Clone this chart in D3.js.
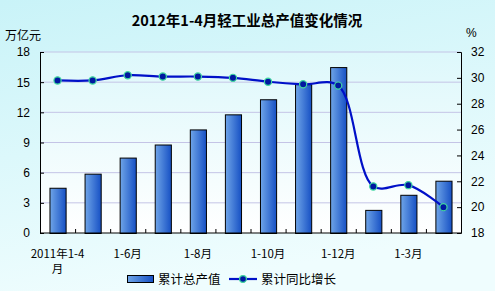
<!DOCTYPE html>
<html>
<head>
<meta charset="utf-8">
<script src="https://cdn.jsdelivr.net/npm/d3@7"></script>
<style>
  body { margin: 0; }
  svg { display: block; }
</style>
</head>
<body>
<div id="chart"></div>
<script>
// data
const categories = ["2011年1-4月", "1-5月", "1-6月", "1-7月", "1-8月", "1-9月",
                    "1-10月", "1-11月", "1-12月", "1-2月", "1-3月", "1-4月"];
const outputValues = [4.5, 5.9, 7.5, 8.8, 10.3, 11.8, 13.3, 14.8, 16.5, 2.3, 3.8, 5.2];
const growthValues = [29.8, 29.8, 30.2, 30.1, 30.1, 30.0, 29.7, 29.5, 29.4, 21.6, 21.7, 20.0];
const leftTicks = [0, 3, 6, 9, 12, 15, 18];
const rightTicks = [18, 20, 22, 24, 26, 28, 30, 32];
const shownLabels = ["2011年1-4月", "1-6月", "1-8月", "1-10月", "1-12月", "1-3月"];

const W = 495, H = 291;
let margin = { top: 52, bottom: 58, left: 40, right: 34 };
let width = W - margin.left - margin.right,
    height = H - margin.top - margin.bottom;

let svg = d3.select('#chart').append('svg')
    .attr('width', W).attr('height', H);

let defs = svg.append('defs');
let bg = defs.append('linearGradient').attr('id', 'bg')
    .attr('x1', 0).attr('y1', 0).attr('x2', 0.3).attr('y2', 1);
bg.append('stop').attr('offset', '0%').attr('stop-color', '#c9f3f8');
bg.append('stop').attr('offset', '100%').attr('stop-color', '#effdfe');

let pbg = defs.append('linearGradient').attr('id', 'pbg')
    .attr('x1', 0).attr('y1', 0).attr('x2', 0).attr('y2', 1);
pbg.append('stop').attr('offset', '0%').attr('stop-color', '#ddf8fb');
pbg.append('stop').attr('offset', '100%').attr('stop-color', '#ffffff');

let barGrad = defs.append('linearGradient').attr('id', 'bar')
    .attr('x1', 0).attr('y1', 0).attr('x2', 1).attr('y2', 0);
barGrad.append('stop').attr('offset', '0%').attr('stop-color', '#6fa5e8');
barGrad.append('stop').attr('offset', '100%').attr('stop-color', '#1650c4');

svg.append('rect').attr('width', W).attr('height', H).attr('fill', 'url(#bg)');

// title + units
svg.append('text')
    .attr('x', 247).attr('y', 26)
    .attr('text-anchor', 'middle')
    .style('font-family', '"Noto Sans CJK SC", sans-serif')
    .style('font-size', '14.5px').style('font-weight', 'bold')
    .text('2012年1-4月轻工业总产值变化情况');
svg.append('text')
    .attr('x', 5).attr('y', 40)
    .style('font-family', '"Noto Sans CJK SC", sans-serif')
    .style('font-size', '12px')
    .text('万亿元');
svg.append('text')
    .attr('x', 466).attr('y', 37)
    .style('font-family', '"Liberation Sans", Arial, sans-serif')
    .style('font-size', '12px')
    .text('%');

let g = svg.append('g').attr('transform', `translate(${margin.left},${margin.top})`);

// Scales
let xscale = d3.scaleBand().domain(categories).range([0, width]).paddingInner(0.54).paddingOuter(0.27);
let xpos = d3.scalePoint().domain(categories).range([0, width]).padding(0.5);
let yleft = d3.scaleLinear().domain([0, 18]).range([height, 0]);
let yright = d3.scaleLinear().domain([18, 32]).range([height, 0]);

g.append('rect').attr('width', width).attr('height', height).attr('fill', 'url(#pbg)');

// gridlines
g.selectAll('.grid').data(leftTicks.slice(1)).join('line')
    .attr('class', 'grid')
    .attr('x1', 0).attr('x2', width)
    .attr('y1', d => yleft(d)).attr('y2', d => yleft(d))
    .attr('stroke', '#c4c4e6').attr('stroke-width', 1);

// bars
g.selectAll('.bar').data(outputValues).join('rect')
    .attr('class', 'bar')
    .attr('x', (d, i) => xscale(categories[i]) + 0.5)
    .attr('width', xscale.bandwidth())
    .attr('y', d => yleft(d) + 0.5)
    .attr('height', d => height - yleft(d))
    .attr('fill', 'url(#bar)')
    .attr('stroke', '#000').attr('stroke-width', 1);

// axes
let tickFont = g => g.selectAll('text')
    .style('font-family', '"Liberation Sans", Arial, sans-serif')
    .style('font-size', '12px').attr('fill', '#000');

let gl = g.append('g').call(d3.axisLeft(yleft).tickValues(leftTicks).tickSize(-4).tickPadding(10));
gl.call(tickFont);
let gr = g.append('g').attr('transform', `translate(${width},0)`)
    .call(d3.axisRight(yright).tickValues(rightTicks).tickSize(-4).tickPadding(10));
gr.call(tickFont);

let step = width / categories.length;
let gx = g.append('g').attr('transform', `translate(0,${height})`);
gx.append('line').attr('x1', 0).attr('x2', width).attr('stroke', '#000');
gx.selectAll('.xt').data(d3.range(1, categories.length)).join('line')
    .attr('class', 'xt')
    .attr('x1', d => d * step + 0.5).attr('x2', d => d * step + 0.5)
    .attr('y1', 0).attr('y2', -4).attr('stroke', '#000');

let xl = gx.selectAll('.xl').data(shownLabels).join('text')
    .attr('class', 'xl')
    .attr('text-anchor', 'middle')
    .attr('transform', d => `translate(${xpos(d)},25)`)
    .style('font-family', '"Noto Sans CJK SC", sans-serif')
    .style('font-size', '11.5px');
xl.each(function(d) {
    let t = d3.select(this);
    if (d === "2011年1-4月") {
        t.append('tspan').attr('x', 0).attr('dy', 0).text('2011年1-4');
        t.append('tspan').attr('x', 0).attr('dy', 15).text('月');
    } else {
        t.text(d);
    }
});

[gl, gr].forEach(a => a.selectAll('path, line').attr('stroke', '#000'));

// growth line
let line = d3.line()
    .x((d, i) => xpos(categories[i]))
    .y(d => yright(d))
    .curve(d3.curveCatmullRom.alpha(0.5));
g.append('path').datum(growthValues)
    .attr('d', line)
    .attr('fill', 'none').attr('stroke', '#0010c8').attr('stroke-width', 2.2);
g.selectAll('.pt').data(growthValues).join('circle')
    .attr('class', 'pt')
    .attr('cx', (d, i) => xpos(categories[i]))
    .attr('cy', d => yright(d))
    .attr('r', 3.6)
    .attr('fill', '#0018a0').attr('stroke', '#40d8a0').attr('stroke-width', 1.2);

// legend
let lg = svg.append('g').attr('transform', 'translate(127,282)');
lg.append('rect').attr('x', 0.5).attr('y', -6.5).attr('width', 26).attr('height', 7)
    .attr('fill', 'url(#bar)').attr('stroke', '#000');
lg.append('text').attr('x', 31).attr('y', 2)
    .style('font-family', '"Noto Sans CJK SC", sans-serif').style('font-size', '12.5px')
    .text('累计总产值');
lg.append('line').attr('x1', 102).attr('x2', 130).attr('y1', -3).attr('y2', -3)
    .attr('stroke', '#0010c8').attr('stroke-width', 2.2);
lg.append('circle').attr('cx', 116).attr('cy', -3).attr('r', 3.4)
    .attr('fill', '#0018a0').attr('stroke', '#40d8a0').attr('stroke-width', 1.2);
lg.append('text').attr('x', 134).attr('y', 2)
    .style('font-family', '"Noto Sans CJK SC", sans-serif').style('font-size', '12.5px')
    .text('累计同比增长');
</script>
</body>
</html>
